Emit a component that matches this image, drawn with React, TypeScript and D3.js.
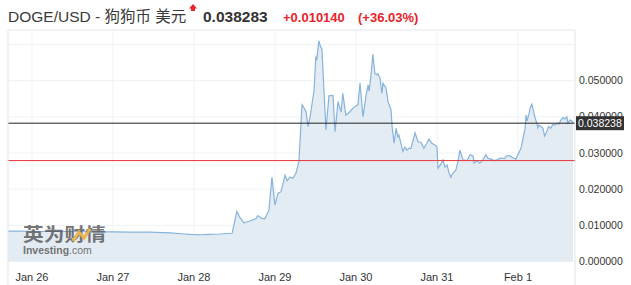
import React from "react";
import * as d3 from "d3";

// hours since 2021-01-26 00:00 UTC
const hours = [
  -7.1, -3.6, 2.4, 8.3, 14.2, 20.1, 24.0, 29.0, 35.0, 40.9, 45.3, 46.8, 49.8, 52.7, 55.7, 59.3,
  60.7, 61.6, 62.8, 64.6, 66.4, 66.9, 68.1, 69.0, 70.2, 71.1, 72.0, 72.9, 73.8, 75.0, 75.6, 76.4,
  77.3, 78.2, 79.1, 80.0, 80.6, 81.2, 81.8, 82.4, 83.6, 84.1, 84.4, 85.0, 85.6, 85.9, 87.1, 88.0,
  89.2, 89.8, 90.7, 91.6, 92.1, 93.0, 94.2, 95.1, 96.0, 96.6, 97.2, 98.1, 99.0, 99.6, 99.9, 100.4,
  101.0, 101.6, 102.2, 102.5, 103.1, 103.7, 104.0, 104.9, 105.5, 106.4, 106.7, 107.3, 107.9, 108.4,
  108.7, 109.9, 110.5, 111.1, 111.7, 112.3, 113.5, 114.4, 115.3, 116.1, 117.0, 117.6, 118.5, 119.4,
  120.0, 120.3, 121.2, 121.8, 122.4, 123.0, 123.6, 123.9, 124.1, 124.7, 125.6, 126.2, 126.8, 127.7,
  128.9, 129.8, 130.7, 131.0, 131.9, 132.7, 133.6, 134.5, 135.1, 136.0, 136.9, 137.8, 138.7, 139.3,
  140.1, 140.7, 141.6, 142.5, 143.4, 144.0, 144.9, 145.5, 146.1, 146.4, 146.7, 147.3, 147.6, 148.1,
  148.4, 149.0, 149.6, 149.9, 150.2, 150.8, 151.4, 151.9, 152.5, 153.1, 153.7, 154.3, 154.9, 155.6,
  156.1, 156.7, 157.3, 157.9, 158.5, 158.8, 159.4, 160.0, 160.3,
];
const prices = [
  0.0084, 0.0084, 0.0083, 0.0083, 0.0083, 0.0082, 0.0082, 0.0081, 0.0081, 0.0079, 0.0076, 0.0075, 0.0074, 0.0075, 0.0076, 0.0078,
  0.0138, 0.0122, 0.0107, 0.0112, 0.0119, 0.0127, 0.0119, 0.0118, 0.0142, 0.0233, 0.0156, 0.0189, 0.0193, 0.0239, 0.0223, 0.0233,
  0.0230, 0.0244, 0.0276, 0.0433, 0.0425, 0.0414, 0.0373, 0.0400, 0.0474, 0.0566, 0.0560, 0.0610, 0.0591, 0.0590, 0.0364, 0.0458,
  0.0459, 0.0359, 0.0442, 0.0413, 0.0465, 0.0405, 0.0414, 0.0424, 0.0430, 0.0433, 0.0493, 0.0400, 0.0460, 0.0488, 0.0471, 0.0511,
  0.0573, 0.0520, 0.0516, 0.0519, 0.0507, 0.0465, 0.0493, 0.0479, 0.0442, 0.0419, 0.0373, 0.0327, 0.0368, 0.0345,
  0.0350, 0.0304, 0.0316, 0.0308, 0.0313, 0.0313, 0.0356, 0.0331, 0.0329, 0.0313, 0.0327, 0.0338, 0.0327, 0.0322,
  0.0317, 0.0258, 0.0270, 0.0281, 0.0261, 0.0267, 0.0244, 0.0239, 0.0233, 0.0244, 0.0253, 0.0276, 0.0308, 0.0281,
  0.0279, 0.0295, 0.0292, 0.0272, 0.0279, 0.0272, 0.0281, 0.0295, 0.0285, 0.0283, 0.0279, 0.0281, 0.0285, 0.0285,
  0.0285, 0.0293, 0.0292, 0.0287, 0.0283, 0.0296, 0.0313, 0.0341, 0.0368, 0.0405, 0.0389, 0.0410, 0.0424, 0.0435,
  0.0424, 0.0400, 0.0382, 0.0370, 0.0377, 0.0373, 0.0368, 0.0347, 0.0359, 0.0373, 0.0368, 0.0379, 0.0377, 0.0382,
  0.0379, 0.0391, 0.0398, 0.0394, 0.0400, 0.0382, 0.0391, 0.0389, 0.0382,
];
const yTicks = [0, 0.01, 0.02, 0.03, 0.04, 0.05, 0.06];
const yLabels = [0, 0.01, 0.02, 0.03, 0.04, 0.05];
const lastPrice = 0.038238;
const prevClose = 0.0279;
const titleText = "DOGE/USD - 狗狗币 美元";
const priceText = "0.038283";
const changeText = "+0.010140";
const changePctText = "(+36.03%)";

const BASE = Date.UTC(2021, 0, 26);
const toDate = (h: number) => new Date(BASE + h * 3600e3);

export default function App() {
  const W = 631, H = 285;
  const left = 8, right = 575, top = 30, bottom = 261.5;
  const x = d3.scaleUtc().domain([toDate(-7.1), toDate(160.9)]).range([left, right]);
  const y = d3.scaleLinear().domain([0, 0.064]).range([bottom, top]);
  const data = hours.map((h, i) => ({ d: toDate(h), v: prices[i] }));
  const line = d3.line<any>().x((p) => x(p.d)).y((p) => y(p.v));
  const area = d3.area<any>().x((p) => x(p.d)).y0(y(0)).y1((p) => y(p.v));
  const days = d3.utcDay.range(toDate(-7.1), toDate(160.9)).filter((d) => x(d) > left + 2);
  const fmtDay = d3.utcFormat("%b %-d");
  const fmtY = d3.format(".6f");
  const font = "Arial, 'Liberation Sans', 'Noto Sans CJK SC', sans-serif";
  const frame = "#e1e5ec";
  return (
    <svg width={W} height={H} style={{ position: "absolute", left: 0, top: 0, fontFamily: font }}>
      <rect width={W} height={H} fill="#fff" />
      {/* header */}
      <text x={8} y={22} fontSize={15.5} fill="#3a3a3a">{titleText}</text>
      <path d="M193,4 L197,8.5 L195,8.5 L195,11 L191,11 L191,8.5 L189,8.5 Z" fill="#e8232a" />
      <text x={203} y={22} fontSize={15.5} fontWeight="bold" fill="#333">{priceText}</text>
      <text x={283} y={22} fontSize={13} fontWeight="bold" fill="#e8232a">{changeText}</text>
      <text x={358} y={22} fontSize={13} fontWeight="bold" fill="#e8232a">{changePctText}</text>
      {/* grid */}
      {yTicks.map((t) => (
        <line key={"g" + t} x1={left} x2={right} y1={y(t)} y2={y(t)} stroke="#f1f2f4" />
      ))}
      {days.map((d) => (
        <line key={"v" + +d} x1={x(d)} x2={x(d)} y1={top} y2={bottom} stroke="#f1f2f4" />
      ))}
      {/* area + line */}
      <path d={area(data) || ""} fill="#e4ecf3" />
      <path d={line(data) || ""} fill="none" stroke="#86b3dd" strokeWidth={1.2} />
      {/* watermark */}
      <g opacity={0.8}>
        <text x={23} y={241} fontSize={18} fontWeight="bold" fill="#555" textLength={83} lengthAdjust="spacingAndGlyphs">英为财情</text>
        <path d="M73,241 L79,232 L84,238 L90,229" fill="none" stroke="#f2a623" strokeWidth={3} />
        <text x={23} y={254} fontSize={10.5} fontWeight="bold" fill="#555">
          Investing<tspan fontWeight="normal">.com</tspan>
        </text>
      </g>
      {/* reference lines */}
      <line x1={left} x2={right} y1={y(prevClose)} y2={y(prevClose)} stroke="#e8333a" strokeWidth={1} />
      <line x1={left} x2={right} y1={y(lastPrice)} y2={y(lastPrice)} stroke="#222" strokeWidth={1} />
      {/* frame */}
      <line x1={left} x2={right} y1={top} y2={top} stroke={frame} />
      <line x1={left} x2={left} y1={top} y2={H} stroke={frame} />
      <line x1={right} x2={right} y1={top} y2={H} stroke={frame} />
      {/* y labels */}
      {yLabels.map((t) => (
        <text key={"l" + t} x={579} y={y(t)} dy="0.35em" fontSize={10.5} fill="#333">{fmtY(t)}</text>
      ))}
      <rect x={576} y={y(lastPrice) - 7} width={48} height={14} fill="#333" />
      <text x={578} y={y(lastPrice)} dy="0.35em" fontSize={10.5} fill="#fff">{fmtY(lastPrice)}</text>
      {/* x labels */}
      {days.map((d) => (
        <text key={"x" + +d} x={x(d)} y={281} textAnchor="middle" fontSize={11} fill="#333">{fmtDay(d)}</text>
      ))}
    </svg>
  );
}
